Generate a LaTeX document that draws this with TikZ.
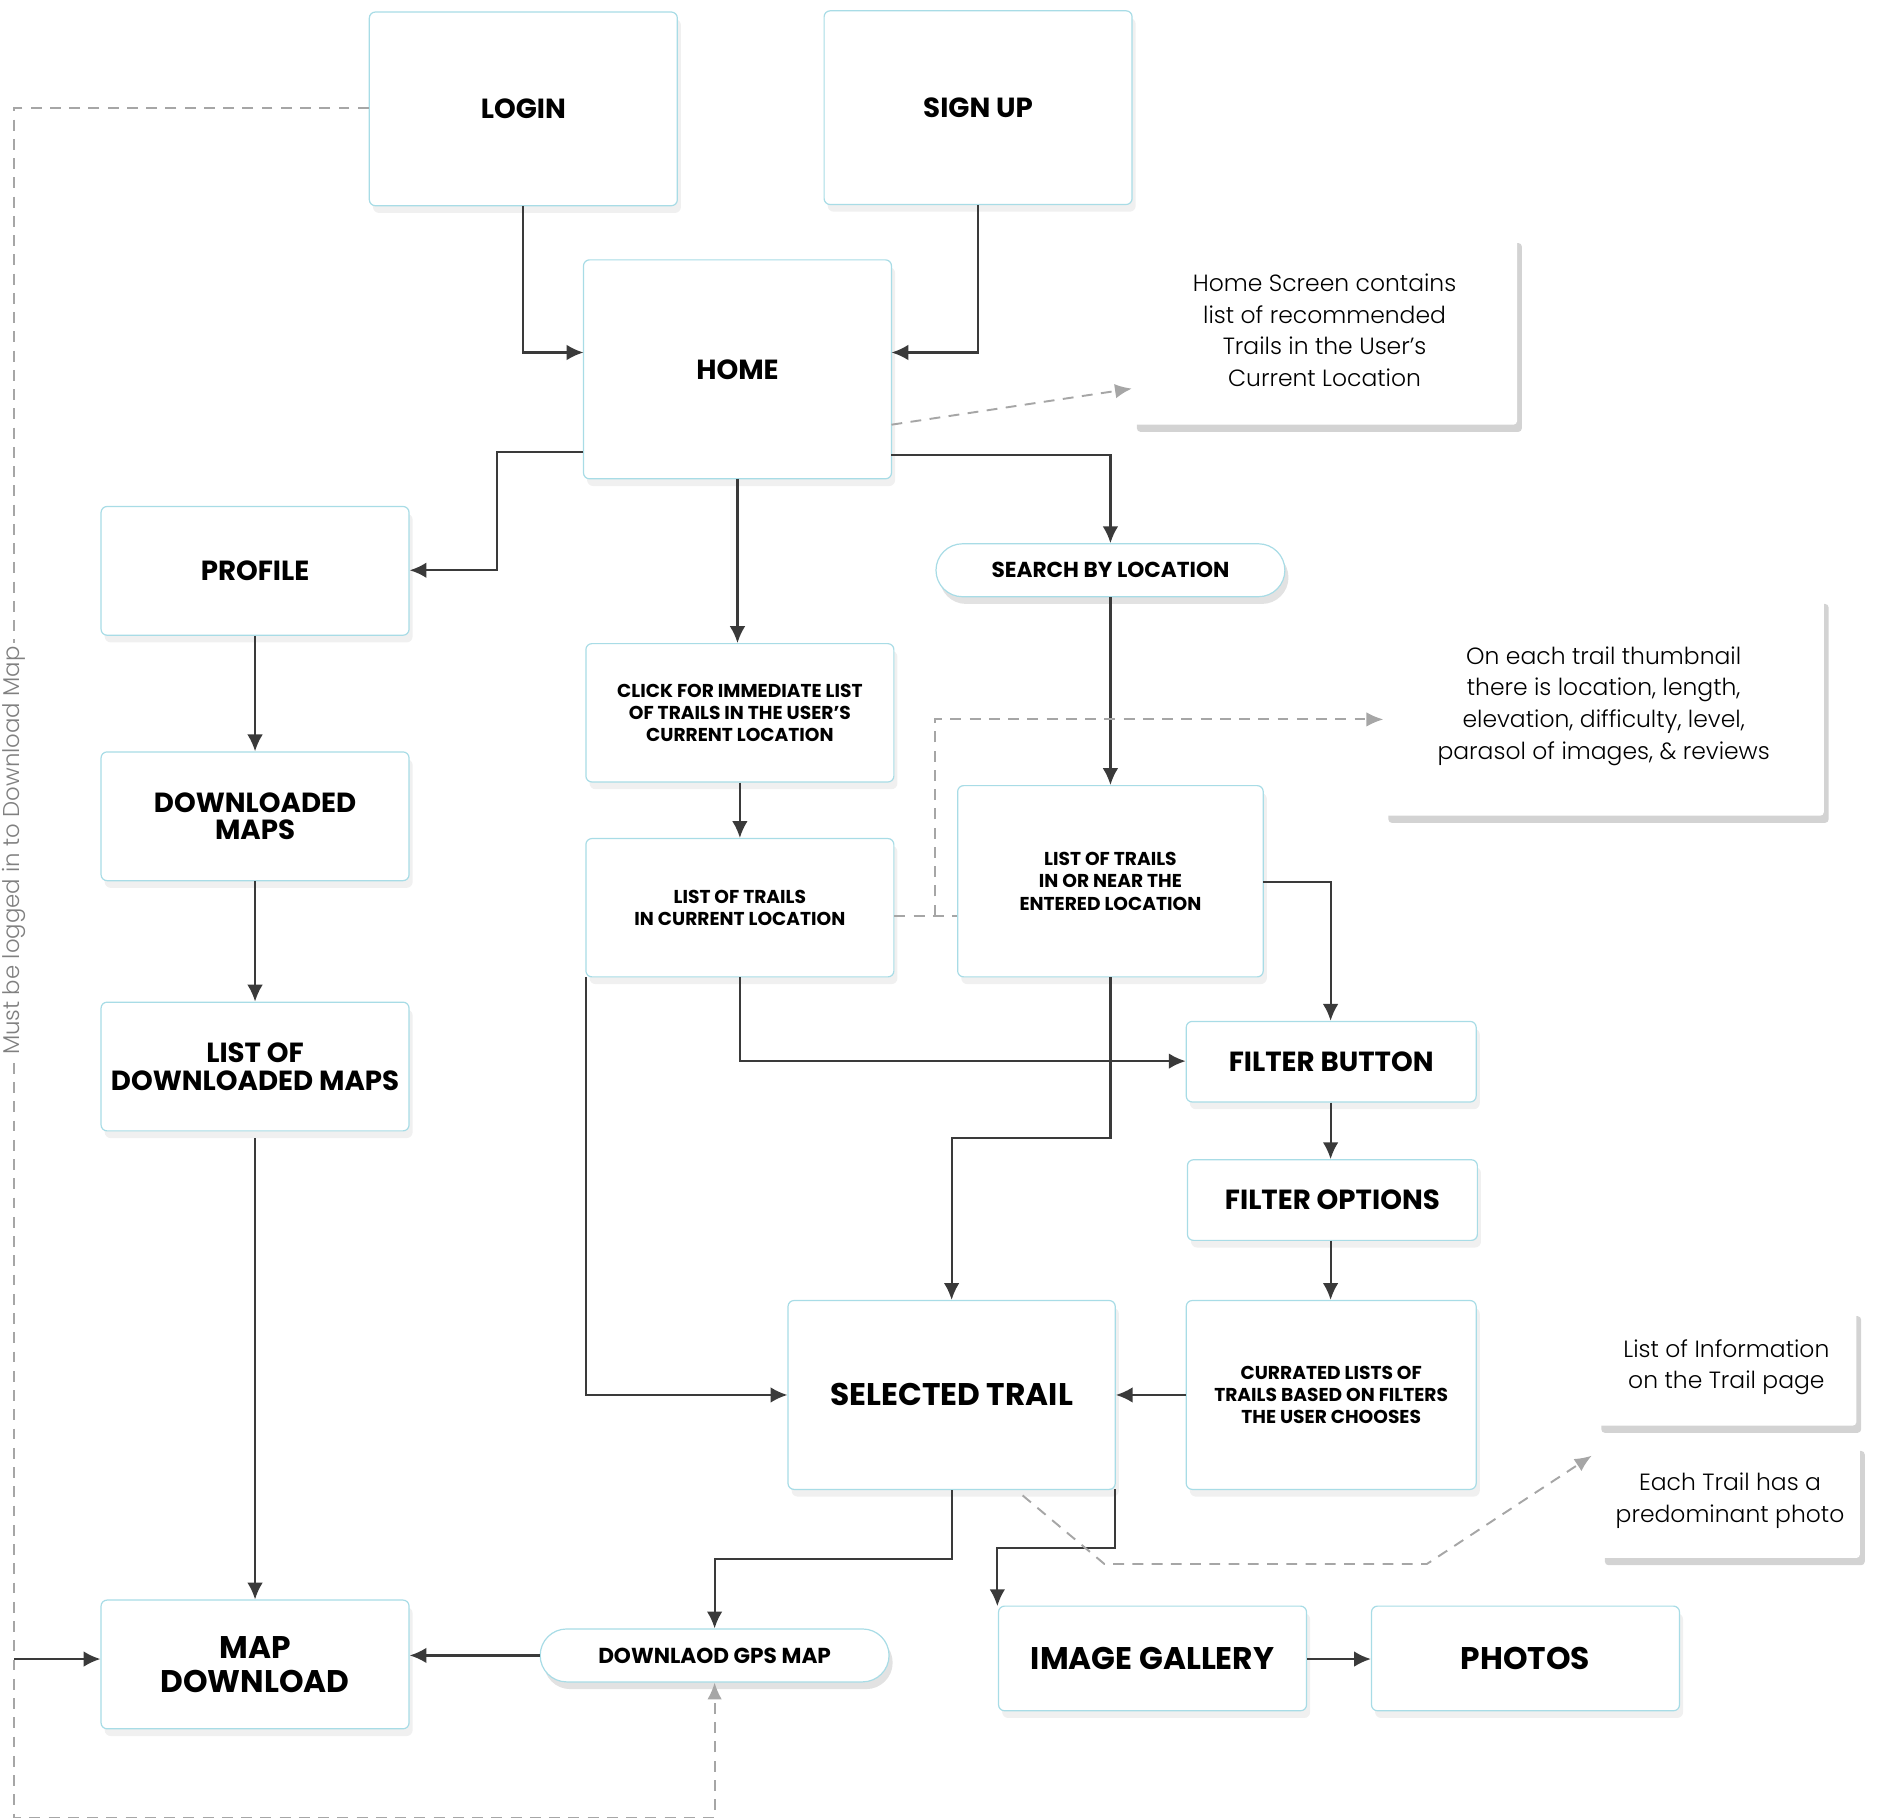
\documentclass[tikz,border=0pt]{standalone}
\usepackage{fontspec}
\setmainfont{Poppins}
\newfontfamily\lightf{Poppins Light}
\usetikzlibrary{arrows.meta,shadows,calc}
\definecolor{ln}{HTML}{3A3A3A}
\definecolor{bd}{HTML}{A8DCE6}
\definecolor{dg}{HTML}{A6A6A6}
\tikzset{
 bx/.style={draw=bd,line width=1pt,rounded corners=5pt,fill=white,align=center,
   drop shadow={shadow xshift=3pt,shadow yshift=-6pt,opacity=0.12,fill=gray},font=\fontsize{23}{27}\selectfont\bfseries},
 sm/.style={font=\fontsize{15.5}{18.5}\selectfont\bfseries},
 pill/.style={bx,rounded corners=22pt,font=\fontsize{18}{22}\selectfont\bfseries},
 note/.style={fill=white,align=center,rounded corners=3pt,
   drop shadow={shadow xshift=4pt,shadow yshift=-6pt,opacity=0.35,fill=gray},font=\lightf\fontsize{19.5}{26.5}\selectfont},
 ar/.style={draw=ln,line width=1.8pt,-{Latex[length=14pt,width=13pt]}},
 da/.style={draw=dg,line width=1.6pt,dash pattern=on 9pt off 7pt,-{Latex[length=14pt,width=12pt]}},
 dl/.style={draw=dg,line width=1.6pt,dash pattern=on 9pt off 7pt},
}
\newcommand\bxat[6]{\node[bx,#6,minimum width=#3-#2,minimum height=#5-#4,inner sep=0pt] (#1) at ({(#2+#3)/2},{(#4+#5)/2})}
\begin{document}
\begin{tikzpicture}[x=1pt,y=-1pt]
\useasboundingbox (0,0) rectangle (1566,1511);
\bxat{login}{307}{563}{10}{171}{}{LOGIN};
\bxat{sign}{685}{941}{9}{170}{}{SIGN UP};
\bxat{home}{485}{741}{216}{398}{}{HOME};
\bxat{prof}{84}{340}{421}{528}{}{PROFILE};
\bxat{sbl}{778}{1068}{452}{496}{pill}{SEARCH BY LOCATION};
\bxat{click}{487}{743}{535}{650}{sm}{CLICK FOR IMMEDIATE LIST\\OF TRAILS IN THE USER’S\\CURRENT LOCATION};
\bxat{cur}{487}{743}{697}{812}{sm}{LIST OF TRAILS\\IN CURRENT LOCATION};
\bxat{near}{796}{1050}{653}{812}{sm}{LIST OF TRAILS\\IN OR NEAR THE\\ENTERED LOCATION};
\bxat{dm}{84}{340}{625}{732}{}{DOWNLOADED\\[-4pt]MAPS};
\bxat{ldm}{84}{340}{833}{940}{}{LIST OF\\[-4pt]DOWNLOADED MAPS};
\bxat{fb}{986}{1227}{849}{916}{}{FILTER BUTTON};
\bxat{fo}{987}{1228}{964}{1031}{}{FILTER OPTIONS};
\bxat{sel}{655}{927}{1081}{1238}{font=\fontsize{26}{30}\selectfont\bfseries}{SELECTED TRAIL};
\bxat{cl}{986}{1227}{1081}{1238}{sm}{CURRATED LISTS OF\\TRAILS BASED ON FILTERS\\THE USER CHOOSES};
\bxat{md}{84}{340}{1330}{1437}{font=\fontsize{26}{28}\selectfont\bfseries}{MAP\\DOWNLOAD};
\bxat{gps}{449}{739}{1354}{1398}{pill}{DOWNLAOD GPS MAP};
\bxat{ig}{830}{1086}{1335}{1422}{font=\fontsize{26}{30}\selectfont\bfseries}{IMAGE GALLERY};
\bxat{ph}{1140}{1396}{1335}{1422}{font=\fontsize{26}{30}\selectfont\bfseries}{PHOTOS};
\node[note,minimum width=320,minimum height=157] (n1) at (1101,274.5) {Home Screen contains\\list of recommended\\Trails in the User’s\\Current Location};
\node[note,minimum width=366,minimum height=182] (n2) at (1333,587) {On each trail thumbnail\\there is location, length,\\elevation, difficulty, level,\\parasol of images, \& reviews};
\node[note,minimum width=216,minimum height=97] (n3) at (1435,1136.5) {List of Information\\on the Trail page};
\node[note,minimum width=216,minimum height=95] (n4) at (1438,1247.5) {Each Trail has a\\predominant photo};
% solid connectors
\draw[ar] (login.south) |- (485,293);
\draw[ar] (sign.south) |- (741,293);
\draw[ar] (485,376) -| (413,474) -- (prof.east|-0,474);
\draw[ar] (741,378) -| (sbl.north);
\draw[ar] (613,398) -- (click.north-|613,0);
\draw[ar] (click.south) -- (cur.north);
\draw[ar] (sbl.south) -- (near.north);
\draw[ar] (1050,733) -| (fb.north-|1106,0);
\draw[ar] (cur.south) |- (fb.west|-0,882);
\draw[ar] (near.south) -- (923,946) -| (sel.north-|791,0);
\draw[ar] (487,812) |- (sel.west);
\draw[ar] (fb.south-|1106,0) -- (fo.north-|1106,0);
\draw[ar] (fo.south-|1106,0) -- (cl.north-|1106,0);
\draw[ar] (cl.west) -- (sel.east);
\draw[ar] (sel.south-|791,0) -- (791,1296) -| (gps.north);
\draw[ar] (927,1238) -- (927,1287) -| (829,1335);
\draw[ar] (gps.west) -- (md.east|-gps.west);
\draw[ar] (prof.south) -- (dm.north);
\draw[ar] (dm.south) -- (ldm.north);
\draw[ar] (212,946) -- (md.north);
\draw[ar] (ig.east|-0,1379) -- (ph.west|-0,1379);
\coordinate (lc) at (12,1379);
\draw[ar] (lc) -- (md.west|-lc);
% dashed
\draw[da] (741,353) -- (n1.west|-0,323);
\draw[dl] (cur.east|-0,761) -- (near.west|-0,761);
\draw[da] (777,761) |- (n2.west|-0,598);
\draw[da] (850,1243) -- (918,1300) -- (1186,1300) -- (1323,1210);
\draw[da] (login.west|-0,90) -| (12,1511) -| (gps.south);
\node[fill=white,rotate=90,text=gray,font=\lightf\fontsize{19}{22}\selectfont,inner sep=3pt] (lbl) at (12,707) {Must be logged in to Download Map};
\end{tikzpicture}
\end{document}
